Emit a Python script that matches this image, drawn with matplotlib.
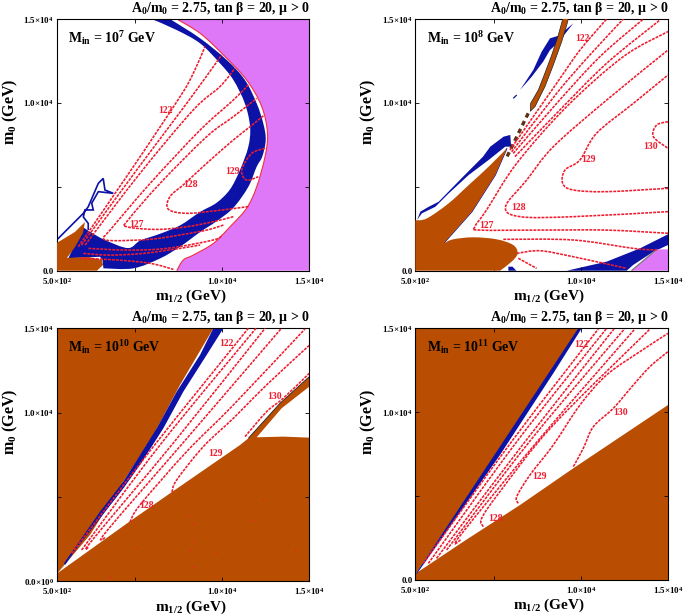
import matplotlib
matplotlib.use("Agg")
import matplotlib.pyplot as plt
from matplotlib.path import Path
from matplotlib.patches import PathPatch

plt.rcParams['font.family'] = ['Liberation Serif', 'DejaVu Serif']
plt.rcParams['font.weight'] = 'bold'
plt.rcParams['mathtext.fontset'] = 'custom'
plt.rcParams['mathtext.rm'] = 'Liberation Serif:bold'
plt.rcParams['mathtext.bf'] = 'Liberation Serif:bold'
plt.rcParams['mathtext.it'] = 'Liberation Serif:bold'
plt.rcParams['mathtext.default'] = 'bf'

BROWN = '#B94E02'
BLUE = '#0C12A6'
MAGENTA = '#DE78F8'
RED = '#EE1C2E'
EDGE_RED = '#F03040'

title_text = r"A$_0$/m$_0$ = 2.75, tan β = 20, μ > 0"
x_label = r"m$_{1/2}$ (GeV)"
y_label = r"m$_0$ (GeV)"
x_ticks = [500, 5000, 10000, 15000]
y_ticks = [0, 5000, 10000, 15000]
x_ticklabels = [r"5.0×10$^2$", "", r"1.0×10$^4$", r"1.5×10$^4$"]
y_ticklabels = ["0.0", "", r"1.0×10$^4$", r"1.5×10$^4$"]
y_ticklabels_bl = [r"0.0×10$^0$", "", r"1.0×10$^4$", r"1.5×10$^4$"]

# ---- all values in thousands of GeV: (m_1/2, m_0) ----
# M_in = 10^7
tl_magenta_edge = [(7.39,15),(8.73,14.15),(10.07,12.86),(11.4,11.37),(12.27,9.78),(12.6,8.19),(12.46,6.8),(11.98,5),(11.4,3.72),(10.45,2.62),(9.5,1.63),(8.34,.93),(7.77,.64),(7.39,0)]
tl_magenta_corners = [(15,0),(15,15),(7.39,15)]
tl_band_outer = [(7.0,15),(8.73,13.85),(10.26,12.56),(11.3,11.37),(11.98,9.97),(12.36,8.77),(12.5,7.8),(12.3,6.8),(11.98,6.2),(11.5,5.0),(10.64,3.75),(9.68,2.95),(8.73,2.3),(7.58,1.43),(6.43,.73),(4.9,.14),(3.18,.14)]
tl_band_apex = [(3.14,.6),(2.99,.83),(1.17,.74),(2.0,2.6)]
tl_band_inner = [(2.41,2.32),(3.27,1.83),(4.59,1.35),(5.3,1.8),(6.43,2.2),(7.58,2.7),(8.73,3.5),(9.68,4.05),(10.45,4.85),(11.02,6.0),(11.5,7.39),(11.6,8.58),(11.3,9.97),(10.64,11.37),(9.87,12.36),(8.73,13.55),(7.39,14.34),(5.95,15)]
tl_filigree = [(.5,1.83),(2.03,3.42),(2.31,3.81),(2.89,5.21),(3.17,5.5),(3.27,4.81),(3.75,4.61),(2.89,4.71),(2.51,4.02),(2.6,3.62),(2.12,3.62),(2.03,3.2),(2.31,2.82),(2.31,2.43)]
tl_brown = [(.5,1.65),(1.55,2.31),(2.12,2.9),(2.01,2.25),(1.55,1.41),(1.09,.76),(2.3,.82),(3.1,.64),(3.16,.34),(2.81,0),(.5,0)]
tl_contours = [
    [(1.74,1.43),(4.9,6.2),(7.58,10.37),(8.34,11.76),(9.01,13.35)],
    [(1.93,1.53),(5.09,6.0),(7.96,9.97),(9.49,12.16),(9.97,12.86)],
    [(2.13,1.53),(5.28,5.8),(8.34,9.58),(9.87,10.97),(10.73,12.06)],
    [(10.07,2.72),(9.11,2.42),(7.58,2.13),(5.86,1.87),(3.75,1.79),(3.18,1.93),(3.56,2.42),(5.86,5.2),(8.73,8.38),(10.64,10.17),(11.5,11.07)],
    [(10.64,3.22),(9.49,2.92),(7.96,2.62),(6.24,2.46),(4.52,2.62),(4.6,3.02),(6.43,5.2),(9.11,7.99),(10.64,9.18),(11.98,10.27)],
    [(11.5,3.82),(9.68,3.58),(7.96,3.42),(6.91,3.66),(7.0,4.41),(7.86,5.2),(9.11,6.4),(10.64,7.79),(11.6,8.58),(12.42,9.28)],
    [(12.46,7.29),(11.69,6.99),(11.12,6.0),(11.4,5.4),(12.07,5.6)],
    [(2.32,1.33),(4.52,1.23),(6.81,1.33),(9.49,1.83),(9.97,2.13)],
    [(2.03,1.03),(3.56,.93),(5.47,1.03),(7.58,1.33),(8.73,1.53)],
    [(1.84,.74),(3.94,.64),(5.86,.44),(7.2,.08)],
]
tl_labels = [("122",6.72,9.52),("127",5.09,2.78),("128",8.21,5.15),("129",10.6,5.94)]

# M_in = 10^8
tr_wedge_top = [(.5,3.0),(1.17,3.12),(2.42,4.02),(3.56,5.1),(4.71,6.2),(5.76,7.3)]
tr_wedge_lower = [(5.09,5.7),(3.75,3.52)]
tr_lobe = [(2.13,1.63),(2.68,1.87),(3.83,1.99),(5.17,1.87),(6.12,1.53),(6.37,1.03),(6.03,.54),(5.36,0)]
tr_wedge_corner = [(.5,0),(.5,3.0)]
tr_wedge_edge = [(5.76,7.3),(5.09,5.7),(3.75,3.52),(2.13,1.63)]
tr_brown_stripe = [(8.96,15),(8.71,14.05),(8.33,12.86),(7.94,11.78),(7.56,10.77),(7.12,9.98),(7.1,9.5),(7.37,9.78),(7.94,10.97),(8.42,12.26),(8.9,13.65),(9.19,14.64),(9.28,15)]
tr_brown_dashes = [(6.98,9.38),(5.76,6.79)]
tr_blue_upper = [(9.57,14.74),(8.71,14.0),(8.23,13.85),(7.75,13.05),(7.27,11.96),(6.51,10.77),(7.18,11.56),(7.84,12.46),(8.23,13.15),(8.7,13.6)]
tr_blue_fragment = [(6.12,10.27),(6.32,10.47)]
tr_blue_mid = [(5.95,8.09),(5.57,7.99),(4.8,7.39),(4.38,6.79),(3.24,5.6),(1.84,4.11),(1.27,3.81),(.79,3.52),(.6,3.02),(.88,3.42),(1.65,3.81),(2.42,4.61),(3.56,5.7),(4.71,6.6),(5.66,7.39),(6.0,7.39)]
tr_blue_bottom = [(15,2.17),(13.39,1.33),(11.48,.54),(9.19,0),(12.63,0),(13.0,.34),(14.16,1.13),(15,1.53)]
tr_blue_small = [(5.84,0),(5.84,.24),(6.08,.24),(6.3,0)]
tr_magenta = [(12.9,0),(14.35,1.27),(15,1.27),(15,0)]
tr_contours = [
    [(5.93,7.19),(8.61,11.17),(9.95,13.15),(11.48,15)],
    [(6.03,7.09),(8.61,10.57),(10.52,12.86),(12.44,15)],
    [(6.12,6.99),(8.61,9.97),(11.1,12.76),(13.59,15)],
    [(6.22,6.8),(8.61,9.38),(11.48,12.36),(14.54,14.94)],
    [(15,2.23),(11.48,2.42),(7.65,2.42),(4.21,2.42),(3.92,2.62),(4.59,3.62),(6.32,6.4),(9.19,9.78),(12.44,12.76),(15,14.25)],
    [(15,3.52),(9.57,3.22),(6.51,3.22),(5.68,3.82),(6.89,5.4),(8.42,7.39),(11.48,10.17),(15,13.15)],
    [(15,4.91),(11.48,4.71),(9.57,4.81),(8.96,5.2),(9.09,6.0),(9.95,6.6),(10.9,8.19),(13.01,9.97),(15,11.66)],
    [(15,8.88),(14.35,8.68),(14.16,7.99),(15,7.29)],
    [(5.55,1.87),(9.57,1.83),(13.01,1.33),(14.35,1.23)],
    [(6.32,1.03),(7.65,1.19),(9.57,.83),(12.63,.14)],
    [(6.41,.74),(7.46,.14)],
]
tr_labels = [("122",10.1,13.81),("127",4.59,2.72),("128",6.45,3.78),("129",10.43,6.64),("130",13.97,7.39)]

# M_in = 10^10
bl_white = [(.54,.46),(2.41,2.73),(4.33,5.9),(6.05,8.67),(7.58,11.64),(9.49,15),(15,15),(15,12.13),(13.32,10.55),(11.5,8.47),(11.02,8.07),(7.0,5.2),(4.67,3.52)]
bl_white_triangle = [(11.98,8.53),(13.41,10.25),(15,11.54),(15,8.51),(13.5,8.57)]
bl_blue = [(9.49,15),(10.07,15),(9.11,13.42),(7.77,11.24),(6.62,9.06),(5.28,6.89),(4.33,5.5),(2.99,3.72),(1.65,1.94),(.98,.95),(.92,1.05),(2.99,4.12),(4.33,5.9),(6.24,9.06),(7.39,11.24),(8.73,13.42)]
bl_stripe_edge = [(11.5,8.47),(13.32,10.55),(15,12.13)]
bl_contours = [
    [(1.36,1.64),(6.05,7.98),(11.5,15)],
    [(1.93,1.84),(6.43,8.07),(11.94,15)],
    [(2.3,1.96),(2.6,2.5),(7.2,8.2),(12.46,15)],
    [(3.27,2.55),(3.4,3.0),(8.0,8.5),(13.4,15)],
    [(4.71,3.5),(5.28,4.51),(7.96,7.68),(10.64,10.45),(14.75,14.96)],
    [(7.12,5.28),(7.39,6.0),(8.92,7.98),(10.64,9.66),(12.55,11.64),(15,13.99)],
    [(11.31,8.57),(12.55,10.05),(13.51,10.85),(15,12.33)],
]
bl_labels = [("122",10.26,14.11),("128",5.67,4.51),("129",9.59,7.58),("130",13.03,10.94)]
bl_stray_x = [8.11,8.34,11.79,12.36,14.18,9.68,8.34,8.15,5.09,8.34,3.56]
bl_stray_y = [3.86,3.42,3.62,4.81,1.84,1.64,2.37,1.84,2.04,.85,.26]

# M_in = 10^11
br_white = [(.54,.4),(9.99,15),(15,15),(15,10.43),(9.57,6.66),(6.51,4.47),(3.25,2.28)]
br_blue = [(9.85,15),(10.05,15),(8.42,12.32),(5.36,7.45),(.61,.4),(.54,.4)]
br_contours = [
    [(.96,.99),(6.1,8.35),(11.0,14.96)],
    [(1.25,.99),(6.4,8.35),(11.45,14.96)],
    [(1.72,1.29),(6.8,8.25),(11.9,14.96)],
    [(2.3,1.79),(7.2,8.44),(12.5,14.96)],
    [(3.1,2.38),(3.1,2.68),(7.65,8.44),(13.1,14.96)],
    [(4.4,3.18),(4.31,3.68),(5.36,5.27),(8.42,9.24),(13.97,14.96)],
    [(6.41,4.57),(6.32,4.97),(7.08,6.26),(8.42,8.05),(9.95,10.43),(11.48,12.22),(13.39,13.61),(15,14.7)],
    [(9.57,6.76),(10.14,7.85),(10.72,9.14),(11.86,10.23),(13.01,11.62),(13.97,12.72),(15,13.61)],
]
br_labels = [("122",10.05,14.05),("128",5.13,3.68),("129",7.62,6.16),("130",12.25,9.99)]

W, H = 685, 615
fig = plt.figure(figsize=(W/100, H/100), dpi=100)


def new_axes(l, t, r, b, min_label, yticklabels):
    ax = fig.add_axes([l/W, 1-b/H, (r-l)/W, (b-t)/H])
    ax.set_xlim(500, 15000)
    ax.set_ylim(0, 15000)
    ax.set_xticks(x_ticks, x_ticklabels)
    ax.set_yticks(y_ticks, yticklabels)
    ax.tick_params(direction='in', top=True, right=True, length=3, width=.6, labelsize=6.5, pad=3.5)
    ax.tick_params(axis='y', pad=2)
    for s in ax.spines.values():
        s.set_linewidth(.8)
    ax.set_xlabel(x_label, fontsize=11, fontweight='bold')
    ax.xaxis.set_label_coords(.53, -.068)
    ax.set_ylabel(y_label, fontsize=11.5, fontweight='bold')
    ax.yaxis.set_label_coords(-.146, .63)
    ax.text(1.003, 1.008, title_text, transform=ax.transAxes, ha='right', va='bottom', fontsize=10)
    ax.text(.045, .925, min_label, transform=ax.transAxes, ha='left', va='center', fontsize=10)
    return ax


def curve_path(pieces):
    """Path through (points, smooth?) pieces; smooth pieces are drawn as Bezier curves."""
    verts, codes = [], []
    for pts, smooth in pieces:
        pts = [(p[0]*1000, p[1]*1000) for p in pts]
        verts.append(pts[0])
        codes.append(Path.LINETO if codes else Path.MOVETO)
        n = len(pts)
        for i in range(n-1):
            if smooth:
                a, b, c, d = pts[max(i-1, 0)], pts[i], pts[i+1], pts[min(i+2, n-1)]
                verts += [(b[0]+(c[0]-a[0])/6, b[1]+(c[1]-a[1])/6),
                          (c[0]-(d[0]-b[0])/6, c[1]-(d[1]-b[1])/6), c]
                codes += [Path.CURVE4]*3
            else:
                verts.append(pts[i+1])
                codes.append(Path.LINETO)
    return Path(verts, codes)


def fill(ax, pieces, color, z=1):
    ax.add_patch(PathPatch(curve_path(pieces), fc=color, ec='none', lw=0, zorder=z))


def line(ax, pieces, color=RED, lw=1.15, ls=(0, (1.8, .7)), z=4):
    ax.add_patch(PathPatch(curve_path(pieces), fc='none', ec=color, lw=lw, ls=ls, zorder=z))


def contours(ax, curves, labels):
    for c in curves:
        line(ax, [(c, True)])
    for s, x, y in labels:
        ax.text(x*1000, y*1000, s, color=RED, fontsize=7, ha='center', va='center', zorder=5)


# top left
ax = new_axes(56.7, 19, 309.3, 270.7, r"M$_{\rm in}$ = 10$^7$ GeV", y_ticklabels)
fill(ax, [(tl_magenta_edge, True), (tl_magenta_corners, False)], MAGENTA)
line(ax, [(tl_magenta_edge, True)], color=EDGE_RED, lw=.8, ls='-', z=2)
fill(ax, [(tl_band_outer, True), (tl_band_apex, False), (tl_band_inner, True)], BLUE, z=2)
line(ax, [(tl_filigree, False)], color=BLUE, lw=1.2, ls='-', z=2)
fill(ax, [(tl_brown, False)], BROWN, z=3)
contours(ax, tl_contours, tl_labels)

# top right
ax = new_axes(415.3, 19, 668, 270.7, r"M$_{\rm in}$ = 10$^8$ GeV", y_ticklabels)
for poly in (tr_blue_upper, tr_blue_mid, tr_blue_bottom, tr_blue_small):
    fill(ax, [(poly, False)], BLUE)
line(ax, [(tr_blue_fragment, False)], color=BLUE, lw=.9, ls='-', z=2)
line(ax, [(tr_wedge_edge, False)], color=BLUE, lw=.8, ls='-', z=2)
fill(ax, [(tr_magenta, False)], MAGENTA)
line(ax, [(tr_magenta[:2], False)], color='#777777', lw=.9, ls='-', z=2)
fill(ax, [(tr_wedge_top, True), (tr_wedge_lower, False), (tr_lobe, True), (tr_wedge_corner, False)], BROWN, z=3)
fill(ax, [(tr_brown_stripe, False)], BROWN, z=3)
line(ax, [(tr_brown_stripe, False)], color='#222222', lw=.5, ls='-', z=3)
line(ax, [(tr_brown_dashes, False)], color='#5A3414', lw=2.4, ls=(0, (1.4, 1.2)), z=3)
contours(ax, tr_contours, tr_labels)

# bottom left
ax = new_axes(56.7, 328.3, 309.3, 581, r"M$_{\rm in}$ = 10$^{10}$ GeV", y_ticklabels_bl)
ax.set_facecolor(BROWN)
fill(ax, [(bl_white, False)], 'white')
fill(ax, [(bl_white_triangle, False)], 'white')
fill(ax, [(bl_blue, False)], BLUE, z=2)
line(ax, [(bl_stripe_edge, False)], color='#222222', lw=.6, ls='-', z=3)
contours(ax, bl_contours, bl_labels)
ax.scatter([v*1000 for v in bl_stray_x], [v*1000 for v in bl_stray_y], s=1.2, color=RED, lw=0, zorder=4)

# bottom right
ax = new_axes(415.3, 328.3, 668, 580, r"M$_{\rm in}$ = 10$^{11}$ GeV", y_ticklabels)
ax.set_facecolor(BROWN)
fill(ax, [(br_white, False)], 'white')
fill(ax, [(br_blue, False)], BLUE, z=2)
contours(ax, br_contours, br_labels)

fig.savefig("out.png", dpi=100)
